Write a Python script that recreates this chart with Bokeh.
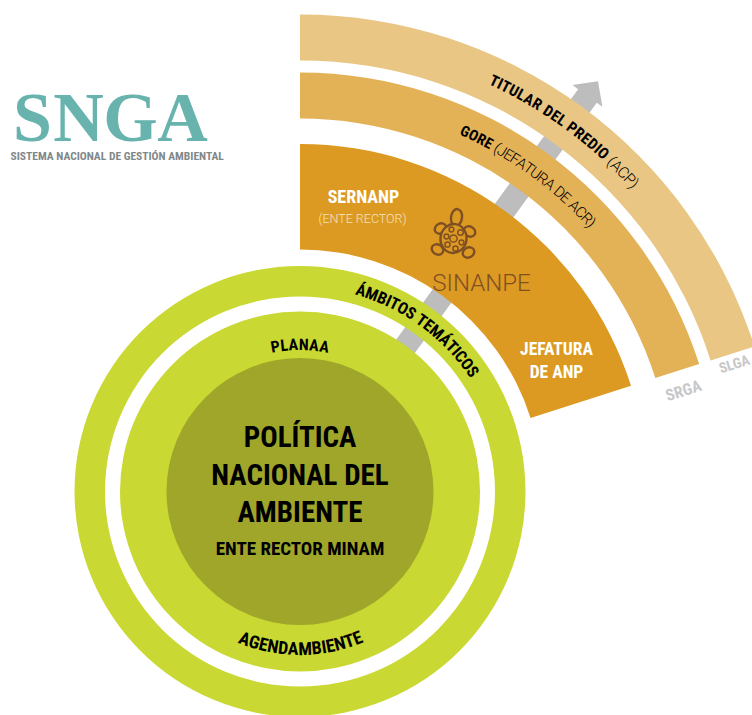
import math
from bokeh.plotting import figure
from bokeh.embed import file_html
from bokeh.resources import INLINE
from bokeh.core.properties import value

PAGE_W, PAGE_H = 752, 715
CX, CY_PX = 299.5, 491
CY = PAGE_H - CY_PX

# --- rings and wedges
green_ring = (195, 225.5)
green_inner = 180
olive_disc = 133.5
bands = [(431, 477, "#E9C684"), (373, 419, "#E3B257"), (242, 347.5, "#DC9A22")]
band_start_deg, band_end_deg = 17.7, 90.0
arrow_deg = 54.0
arrow_half_w, arrow_head_half_w = 11.5, 18.5
arrow_inner, arrow_base, arrow_tip = 170, 489, 507

# --- texts
center_lines = ["POLÍTICA", "NACIONAL DEL", "AMBIENTE"]
center_sub = "ENTE RECTOR MINAM"
logo_letters = ["S", "N", "G", "A"]
logo_x = [32, 78, 130, 182]
logo_sub = "SISTEMA NACIONAL DE GESTIÓN AMBIENTAL"

# --- turtle (page pixels)
turtle_lobes = [(456, 217, 11, 17, -8), (440, 228, 12, 10, 30), (469, 231, 12, 10, -30),
                (437, 249, 12, 10, -30), (468, 252, 12, 10, 30)]
turtle_spots_x = [453, 446, 451, 460, 461, 455, 447]
turtle_spots_y = [238, 236, 229, 232, 242, 248, 244]
turtle_spots_r = [3.6, 2.4, 2.4, 2.8, 2.4, 2.6, 2.6]

BROWN = "#7F4F24"
COND = "Roboto Condensed"
LIGHT = "Roboto Light"

W = dict(A=63, B=60, C=60, D=60, E=52, F=50, G=62, H=64, I=28, J=50, K=58, L=50,
         M=80, N=64, O=63, P=58, R=60, S=57, T=55, U=60)
W.update({" ": 25, "(": 30, ")": 30, "Á": 63})


def py(v):
    return PAGE_H - v


p = figure(width=PAGE_W, height=PAGE_H, x_range=(0, PAGE_W), y_range=(0, PAGE_H),
           toolbar_location=None, output_backend="svg", x_axis_location=None, y_axis_location=None,
           min_border=0, outline_line_color=None, background_fill_color="white", border_fill_color="white")
p.grid.visible = False


def polar(r, deg):
    a = math.radians(deg)
    return CX + r * math.cos(a), CY + r * math.sin(a)


tang = arrow_deg - 90


def off(r, w):
    x, y = polar(r, arrow_deg)
    a = math.radians(tang)
    return x + w * math.cos(a), y + w * math.sin(a)


outline = [off(arrow_inner, -arrow_half_w), off(arrow_base, -arrow_half_w), off(arrow_base, -arrow_head_half_w),
           off(arrow_tip, 0), off(arrow_base, arrow_head_half_w), off(arrow_base, arrow_half_w),
           off(arrow_inner, arrow_half_w)]
p.patch([q[0] for q in outline], [q[1] for q in outline], fill_color="#BDBDBD", line_color=None)

for r0, r1, col in bands:
    p.annular_wedge(x=[CX], y=[CY], inner_radius=r0, outer_radius=r1,
                    start_angle=math.radians(band_start_deg), end_angle=math.radians(band_end_deg),
                    fill_color=col, line_color=None)

p.annulus(x=[CX], y=[CY], inner_radius=green_ring[0], outer_radius=green_ring[1], fill_color="#C9D832", line_color=None)
p.circle(x=[CX], y=[CY], radius=green_inner, fill_color="#C9D832", line_color=None)
p.circle(x=[CX], y=[CY], radius=olive_disc, fill_color="#9FA629", line_color=None)


def label(txt, x, y_px, size, color="black", bold=True, font=COND, angle=0.0, align="center"):
    p.text(x=[x], y=[py(y_px)], text=[txt], text_font=value(font), text_font_size=f"{size}px",
           text_font_style="bold" if bold else "normal", text_color=color, text_align=align,
           text_baseline="middle", angle=angle)


def arc_text(segments, radius, deg_start, deg_end, size, bottom=False):
    chars = [(c, b) for s, b in segments for c in s]
    wid = [W.get(c, 60) for c, _ in chars]
    total = sum(wid)
    acc = 0.0
    for (c, b), w in zip(chars, wid):
        t = (acc + w / 2) / total
        acc += w
        if c == " ":
            continue
        d = deg_start + (deg_end - deg_start) * t
        x, y = polar(radius, d)
        rot = d - 270 if bottom else d - 90
        p.text(x=[x], y=[y], text=[c], text_font=value(COND if b else LIGHT), text_font_size=f"{size}px",
               text_font_style="bold" if b else "normal", text_color="black", text_align="center",
               text_baseline="middle", angle=math.radians(rot))


arc_text([("TITULAR DEL PREDIO ", True), ("(ACP)", False)], 454, 65.2, 42.3, 15.5)
arc_text([("GORE ", True), ("(JEFATURA DE ACR)", False)], 396, 66, 42.3, 15)
arc_text([("ÁMBITOS TEMÁTICOS", True)], 210, 74.5, 33.5, 16.5)
arc_text([("PLANAA", True)], 147, 101.5, 78.5, 16)
arc_text([("AGENDAMBIENTE", True)], 157, 247.5, 293, 18, bottom=True)

label(center_lines[0], CX, 436.5, 29)
label(center_lines[1], CX, 474, 29)
label(center_lines[2], CX, 511.5, 29)
label(center_sub, CX, 547.5, 19)

label("SERNANP", 363, 196, 18, "white")
label("(ENTE RECTOR)", 362, 218, 12.5, "#F6E3BD", bold=False, font=LIGHT)
label("SINANPE", 481, 282, 24, BROWN, bold=False, font=LIGHT)
label("JEFATURA", 556, 348, 17.5, "white")
label("DE ANP", 556, 371, 17.5, "white")

label("SRGA", 683, 390, 16, "#C8C8C8", angle=math.radians(17.7))
label("SLGA", 734, 364, 14.5, "#C8C8C8", angle=math.radians(17.7))

for ch, x in zip(logo_letters, logo_x):
    label(ch, x, 117, 70, "#69B3AE", font="Liberation Serif")
label(logo_sub, 10, 155, 11.5, "#7F888A", align="left")

for x, y, w, h, ang in turtle_lobes:
    p.ellipse(x=[x], y=[py(y)], width=w, height=h, angle=math.radians(ang), fill_color=None,
              line_color=BROWN, line_width=2.4)
p.ellipse(x=[453], y=[py(238)], width=26, height=29, angle=math.radians(-8), fill_color="#DC9A22",
          line_color=BROWN, line_width=2.4)
p.circle(x=turtle_spots_x, y=[py(v) for v in turtle_spots_y], radius=turtle_spots_r, fill_color=None,
         line_color=BROWN, line_width=1.5)

open("out.html", "w").write(file_html(p, INLINE))
